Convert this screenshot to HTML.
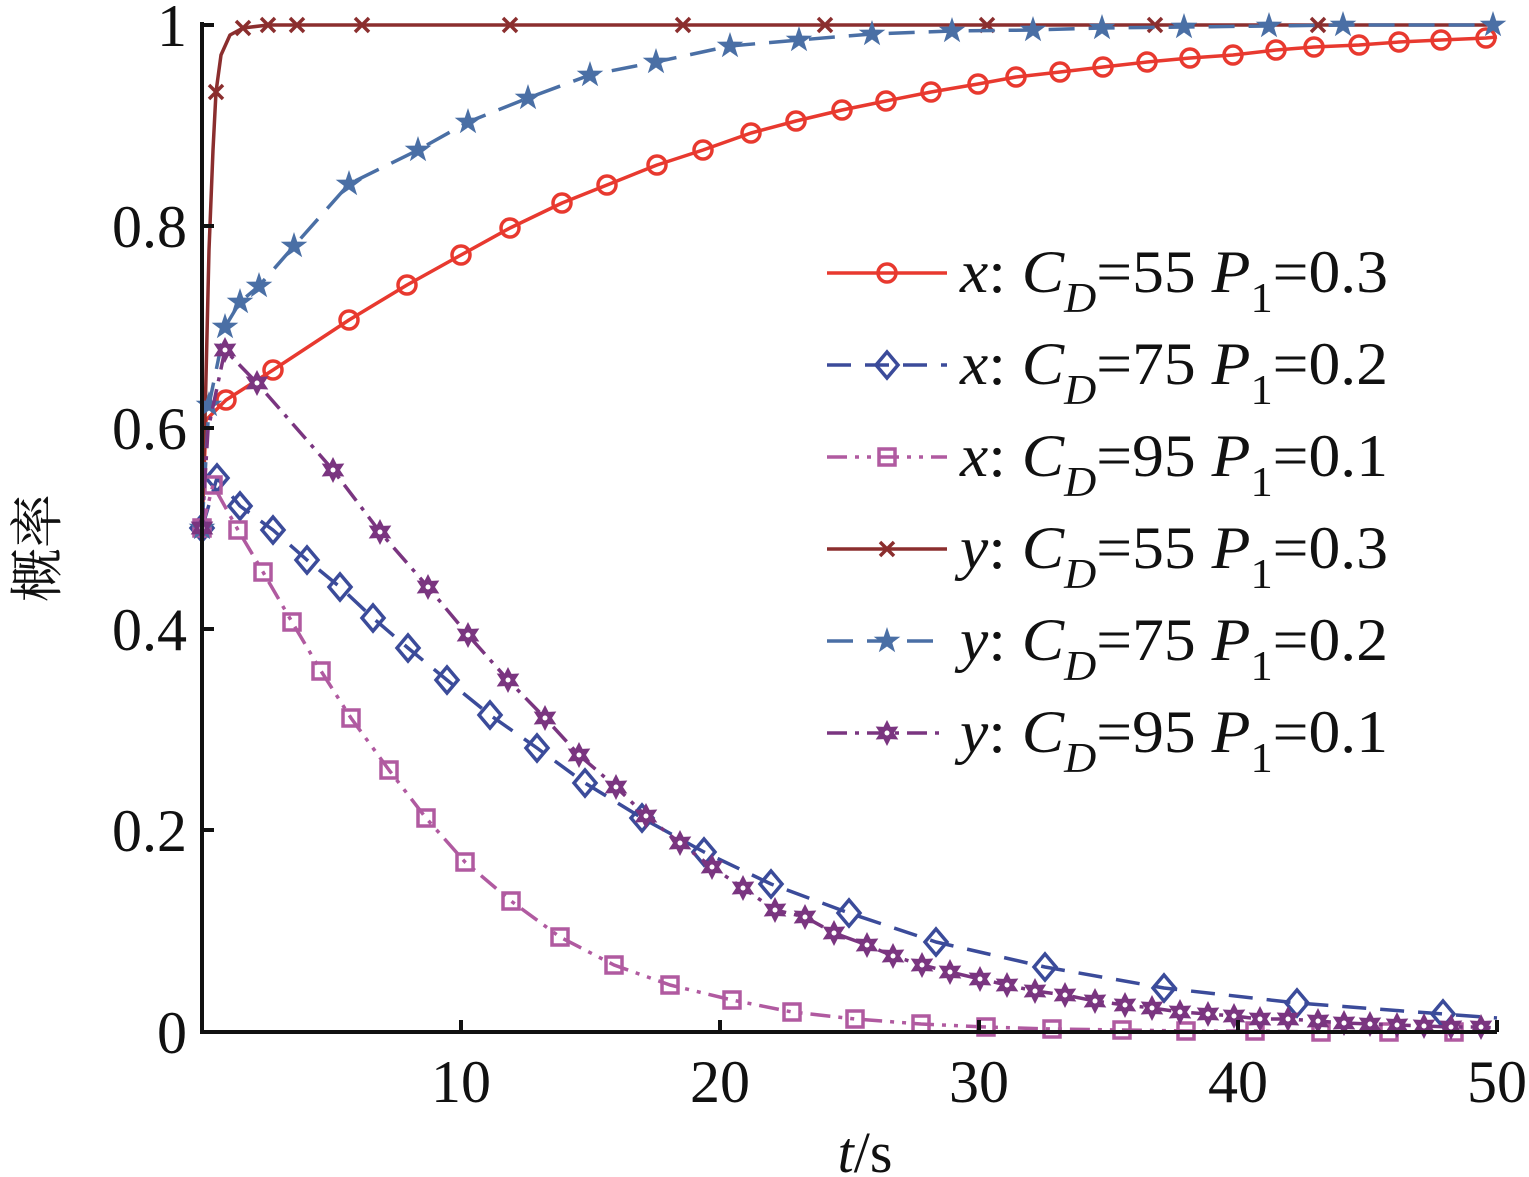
<!DOCTYPE html>
<html><head><meta charset="utf-8"><style>
html,body{margin:0;padding:0;background:#fff}
svg{display:block}
text{font-family:"Liberation Serif","Noto Serif CJK SC",serif;fill:#111}
</style></head><body>
<svg id="s" width="1529" height="1177" viewBox="0 0 1529 1177" xmlns="http://www.w3.org/2000/svg">
<g id="plot"></g>
<g stroke="#111" stroke-width="4" fill="none">
<path d="M202,22 V1032 H1497"/>
<path d="M202,25 h12 M202,226 h12 M202,428 h12 M202,629 h12 M202,830 h12"/>
<path d="M461,1032 v-12 M720,1032 v-12 M979,1032 v-12 M1238,1032 v-12 M1497,1032 v-12"/>
</g>
<g font-size="60" text-anchor="end">
<text x="187" y="46">1</text>
<text x="187" y="247">0.8</text>
<text x="187" y="449">0.6</text>
<text x="187" y="650">0.4</text>
<text x="187" y="851">0.2</text>
<text x="187" y="1053">0</text>
</g>
<g font-size="60" text-anchor="middle">
<text x="461" y="1102">10</text>
<text x="720" y="1102">20</text>
<text x="979" y="1102">30</text>
<text x="1238" y="1102">40</text>
<text x="1497" y="1102">50</text>
<text x="865" y="1172" font-size="58"><tspan font-style="italic">t</tspan>/s</text>
</g>
<text font-size="54" transform="translate(56,548) rotate(-90)" text-anchor="middle">概率</text>
<g id="leg"></g>
</svg>
<script>
var NS="http://www.w3.org/2000/svg";
var plot=document.getElementById('plot'),leg=document.getElementById('leg');
function el(p,n,a){var e=document.createElementNS(NS,n);for(var k in a)e.setAttribute(k,a[k]);p.appendChild(e);return e;}
function marker(p,type,x,y,c){
 if(type=='o')el(p,'circle',{cx:x,cy:y,r:9,fill:'none',stroke:c,'stroke-width':3.5});
 else if(type=='d')el(p,'path',{d:'M'+x+','+(y-13)+' L'+(x+11)+','+y+' L'+x+','+(y+13)+' L'+(x-11)+','+y+'Z',fill:'none',stroke:c,'stroke-width':3.5});
 else if(type=='s')el(p,'rect',{x:x-8,y:y-8,width:16,height:16,fill:'none',stroke:c,'stroke-width':3.5});
 else if(type=='x')el(p,'path',{d:'M'+(x-7)+','+(y-7)+' L'+(x+7)+','+(y+7)+' M'+(x+7)+','+(y-7)+' L'+(x-7)+','+(y+7),stroke:c,'stroke-width':3.5});
 else if(type=='*'){var d='';for(var i=0;i<10;i++){var r=i%2?5.5:14,a=-Math.PI/2+i*Math.PI/5;d+=(i?'L':'M')+(x+r*Math.cos(a)).toFixed(1)+','+(y+r*Math.sin(a)).toFixed(1);}el(p,'path',{d:d+'Z',fill:c});}
 else if(type=='h'){var d='';for(var i=0;i<12;i++){var r=i%2?7:13,a=-Math.PI/2+i*Math.PI/6;d+=(i?'L':'M')+(x+r*Math.cos(a)).toFixed(1)+','+(y+r*Math.sin(a)).toFixed(1);}el(p,'path',{d:d+'Z',fill:c});el(p,'circle',{cx:x,cy:y,r:2.5,fill:'#fff'});}
}
var S=[
 {c:'#e8392f',m:'o',da:'',pre:[[202,528],[206,420]],pts:[[226,400],[273,370],[349,320],[407,285],[461,255],[510,228],[562,203],[607,185],[657,165],[703,150],[751,133],[796,121],[842,110],[886,101],[931,92],[978,84],[1016,77],[1060,72],[1103,67],[1147,62],[1190,58],[1233,55],[1276,50],[1314,47],[1359,45],[1399,42],[1441,40],[1486,38]],post:[[1497,37]]},
 {c:'#3b4b9a',m:'d',da:'24 14',pre:[[202,528]],pts:[[217,478],[240,506],[273,530],[307,560],[340,587],[373,618],[408,648],[447,680],[490,715],[537,748],[585,783],[642,818],[704,852],[771,884],[849,913],[936,942],[1045,967],[1164,988],[1297,1003],[1443,1014]],post:[[1497,1018]]},
 {c:'#b05aa0',m:'s',da:'20 8 4 8 4 8',pre:[[202,528]],pts:[[213,485],[238,530],[263,572],[292,622],[321,671],[351,718],[389,770],[426,818],[465,862],[511,901],[560,937],[614,965],[670,985],[732,1000],[792,1012],[855,1019],[921,1024],[986,1027],[1052,1029],[1122,1030],[1186,1031],[1255,1031],[1321,1032],[1389,1032],[1454,1032]],post:[[1497,1032]]},
 {c:'#8b2e2e',m:'x',da:'',pre:[],pts:[[216,92],[243,28],[268,25],[297,25],[362,25],[510,25],[683,25],[825,25],[987,25],[1155,25],[1318,25]],post:[]},
 {c:'#4a6fa5',m:'*',da:'26 14',pre:[[202,528]],pts:[[209,405],[225,327],[240,302],[259,286],[294,246],[349,184],[418,150],[468,122],[528,98],[590,75],[656,62],[730,46],[799,40],[872,34],[952,31],[1033,30],[1102,28],[1184,27],[1269,26],[1343,25],[1493,25]],post:[]},
 {c:'#7a3580',m:'h',da:'20 8 4 8',pre:[[202,528],[208,430]],pts:[[225,350],[257,383],[333,470],[380,532],[428,587],[468,635],[508,680],[545,718],[579,755],[616,787],[646,816],[680,843],[712,867],[743,888],[775,910],[805,917],[834,933],[867,945],[893,956],[922,965],[950,972],[980,979],[1007,985],[1035,991],[1065,995],[1095,1001],[1125,1005],[1152,1008],[1180,1012],[1208,1014],[1234,1016],[1260,1019],[1288,1019],[1318,1021],[1344,1023],[1370,1024],[1397,1025],[1424,1026],[1451,1027],[1481,1027]],post:[[1497,1028]]}
];
S.forEach(function(s){
 var all=s.pre.concat(s.pts,s.post);
 if(s.m=='x')all=[[202,528],[205,420],[209,250],[213,150],[216,92],[221,55],[230,35],[243,28],[268,25],[1497,25]];
 var d=all.map(function(p,i){return (i?'L':'M')+p[0]+','+p[1];}).join(' ');
 var a={d:d,fill:'none',stroke:s.c,'stroke-width':3.5,'stroke-linejoin':'round'};
 if(s.da)a['stroke-dasharray']=s.da;
 el(plot,'path',a);
 var mk=s.pts.slice();if(s.m!='x')mk.unshift([202,528]);
 mk.forEach(function(p){marker(plot,s.m,p[0],p[1],s.c);});
});
var labs=[['x','55','0.3'],['x','75','0.2'],['x','95','0.1'],['y','55','0.3'],['y','75','0.2'],['y','95','0.1']];
for(var i=0;i<6;i++){
 var y=273+i*92,s=S[i];
 var a={d:'M827,'+y+' H947',stroke:s.c,'stroke-width':3.5,fill:'none'};
 if(s.da)a['stroke-dasharray']=s.da;
 el(leg,'path',a);marker(leg,s.m,887,y,s.c);
 var t=el(leg,'text',{x:960,y:y+19,'font-size':60,textLength:428,lengthAdjust:'spacingAndGlyphs'});
 t.innerHTML='<tspan font-style="italic">'+labs[i][0]+'</tspan>: <tspan font-style="italic">C</tspan><tspan font-style="italic" font-size="42" dy="20">D</tspan><tspan dy="-20">='+labs[i][1]+' </tspan><tspan font-style="italic">P</tspan><tspan font-size="42" dy="20">1</tspan><tspan dy="-20">='+labs[i][2]+'</tspan>';
}
</script>
</body></html>
